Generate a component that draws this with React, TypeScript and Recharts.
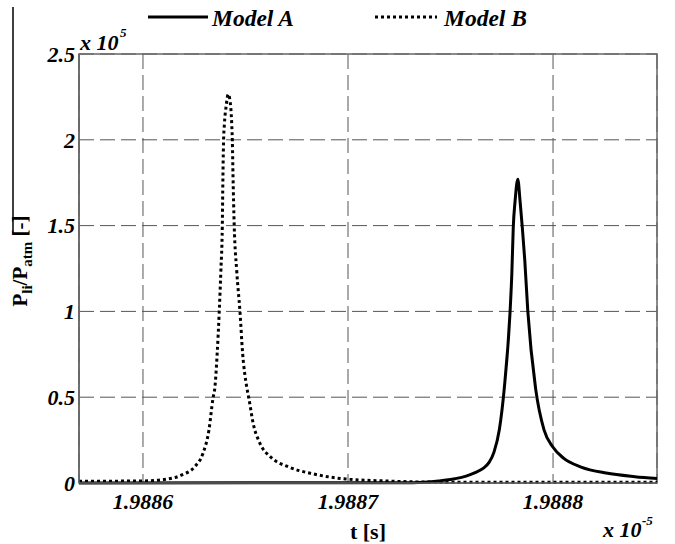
import * as React from 'react';
import { LineChart, Line, XAxis, YAxis, CartesianGrid, ReferenceArea } from 'recharts';

// time in units of 1e-5 s, pressure ratio in units of 1e5
const modelATime = [
  1.9885688, 1.9887317, 1.9887442, 1.9887522, 1.9887576, 1.988762, 1.9887659, 1.9887688, 1.9887712,
  1.9887738, 1.9887762, 1.988779, 1.9887799, 1.9887806, 1.9887815, 1.9887828, 1.9887839, 1.988785,
  1.9887862, 1.9887877, 1.9887915, 1.9887956, 1.9887999, 1.9888051, 1.9888137, 1.9888259, 1.9888399,
  1.9888507,
];
const modelAValue = [
  0, 0.002, 0.012, 0.025, 0.04, 0.06, 0.085, 0.12, 0.18, 0.31, 0.55, 0.99, 1.22, 1.49, 1.645, 1.77, 1.645,
  1.49, 1.3, 1.0, 0.55, 0.31, 0.21, 0.145, 0.093, 0.058, 0.037, 0.026,
];

const modelBTime = [
  1.9885688, 1.9886, 1.9886102, 1.988619, 1.9886251, 1.9886293, 1.9886322, 1.9886341, 1.9886351,
  1.9886362, 1.9886372, 1.988638, 1.9886387, 1.9886389, 1.9886393, 1.9886397, 1.9886405, 1.9886416,
  1.9886428, 1.9886433, 1.9886436, 1.9886439, 1.9886445, 1.9886457, 1.9886473, 1.9886486, 1.9886506,
  1.9886517, 1.9886537, 1.9886571, 1.9886624, 1.9886712, 1.9886834, 1.988699, 1.988718, 1.9887449,
  1.9888507,
];
const modelBValue = [
  0.01, 0.012, 0.02, 0.047, 0.093, 0.174, 0.31, 0.49, 0.56, 0.756, 1.0, 1.24, 1.5, 1.7, 1.99, 2.09, 2.19,
  2.265, 2.19, 2.09, 1.99, 1.8, 1.5, 1.24, 1.0, 0.756, 0.56, 0.49, 0.35, 0.23, 0.15, 0.093, 0.052, 0.023,
  0.012, 0.005, 0.005,
];

const xTicks = [1.9886, 1.9887, 1.9888];
const yTicks = [0, 0.5, 1, 1.5, 2, 2.5];
const xDomain: [number, number] = [1.9885688, 1.9888507];

const modelA = modelATime.map((t, i) => ({ t, p: modelAValue[i] }));
const modelB = modelBTime.map((t, i) => ({ t, p: modelBValue[i] }));

const SERIF = 'Liberation Serif';

const tickFont = {
  fill: '#000',
  fontFamily: SERIF,
  fontWeight: 'bold',
  fontStyle: 'italic',
  fontSize: 22,
};

export default function App(): React.JSX.Element {
  return (
    <div style={{ position: 'absolute', left: 0, top: 0, width: 675, height: 544, background: '#fff' }}>
      <LineChart width={675} height={544} margin={{ top: 54, right: 18, bottom: 31, left: 0 }}>
        <CartesianGrid stroke="#555" strokeDasharray="15 6" />
        <XAxis
          type="number"
          dataKey="t"
          domain={xDomain}
          ticks={xTicks}
          allowDataOverflow
          height={30}
          tickSize={0}
          tickMargin={10}
          axisLine={{ stroke: '#666', strokeWidth: 1.5 }}
          tick={tickFont}
          tickFormatter={(v) => v.toFixed(4)}
        />
        <YAxis
          type="number"
          domain={[0, 2.5]}
          ticks={yTicks}
          width={79}
          tickSize={0}
          tickMargin={4}
          axisLine={{ stroke: '#666', strokeWidth: 1.5 }}
          tick={tickFont}
          tickFormatter={(v) => String(v)}
        />
        <ReferenceArea x1={xDomain[0]} x2={xDomain[1]} y1={0} y2={2.5} fill="none" stroke="#666" strokeWidth={1.5} />
        <Line
          data={modelA}
          dataKey="p"
          type="monotone"
          stroke="#000"
          strokeWidth={3}
          dot={false}
          isAnimationActive={false}
        />
        <Line
          data={modelB}
          dataKey="p"
          type="monotone"
          stroke="#000"
          strokeWidth={3}
          strokeDasharray="3 3"
          dot={false}
          isAnimationActive={false}
        />
      </LineChart>
      <svg width={675} height={544} style={{ position: 'absolute', left: 0, top: 0, pointerEvents: 'none' }}>
        {/* legend */}
        <line x1={148} y1={17} x2={208} y2={17} stroke="#000" strokeWidth={3} />
        <text x={212} y={26} fontFamily={SERIF} fontWeight="bold" fontSize={23.5} fontStyle="italic">Model A</text>
        <line x1={375} y1={17} x2={437} y2={17} stroke="#000" strokeWidth={3} strokeDasharray="3 3" />
        <text x={444} y={26} fontFamily={SERIF} fontWeight="bold" fontSize={23.5} fontStyle="italic">Model B</text>
        {/* axis multipliers */}
        <text x={80} y={50} fontFamily={SERIF} fontWeight="bold" fontSize={22} fontStyle="italic">x 10</text>
        <text x={120} y={37} fontFamily={SERIF} fontWeight="bold" fontSize={13} fontStyle="italic">5</text>
        <text x={603} y={537} fontFamily={SERIF} fontWeight="bold" fontSize={22} fontStyle="italic">x 10</text>
        <text x={642} y={525} fontFamily={SERIF} fontWeight="bold" fontSize={13} fontStyle="italic">-5</text>
        {/* axis labels */}
        <text x={368} y={539} fontFamily={SERIF} fontWeight="bold" fontSize={22} textAnchor="middle">t [s]</text>
        <line x1={13} y1={7} x2={13} y2={233} stroke="#000" strokeWidth={1.5} />
        <text
          x={27}
          y={261}
          fontFamily={SERIF}
          fontWeight="bold"
          fontSize={21}
          textAnchor="middle"
          transform="rotate(-90 27 261)"
        >
          P<tspan fontSize={15} dy={5}>li</tspan>
          <tspan dy={-5}>/P</tspan>
          <tspan fontSize={15} dy={5}>atm</tspan>
          <tspan dy={-5}> [-]</tspan>
        </text>
      </svg>
    </div>
  );
}
